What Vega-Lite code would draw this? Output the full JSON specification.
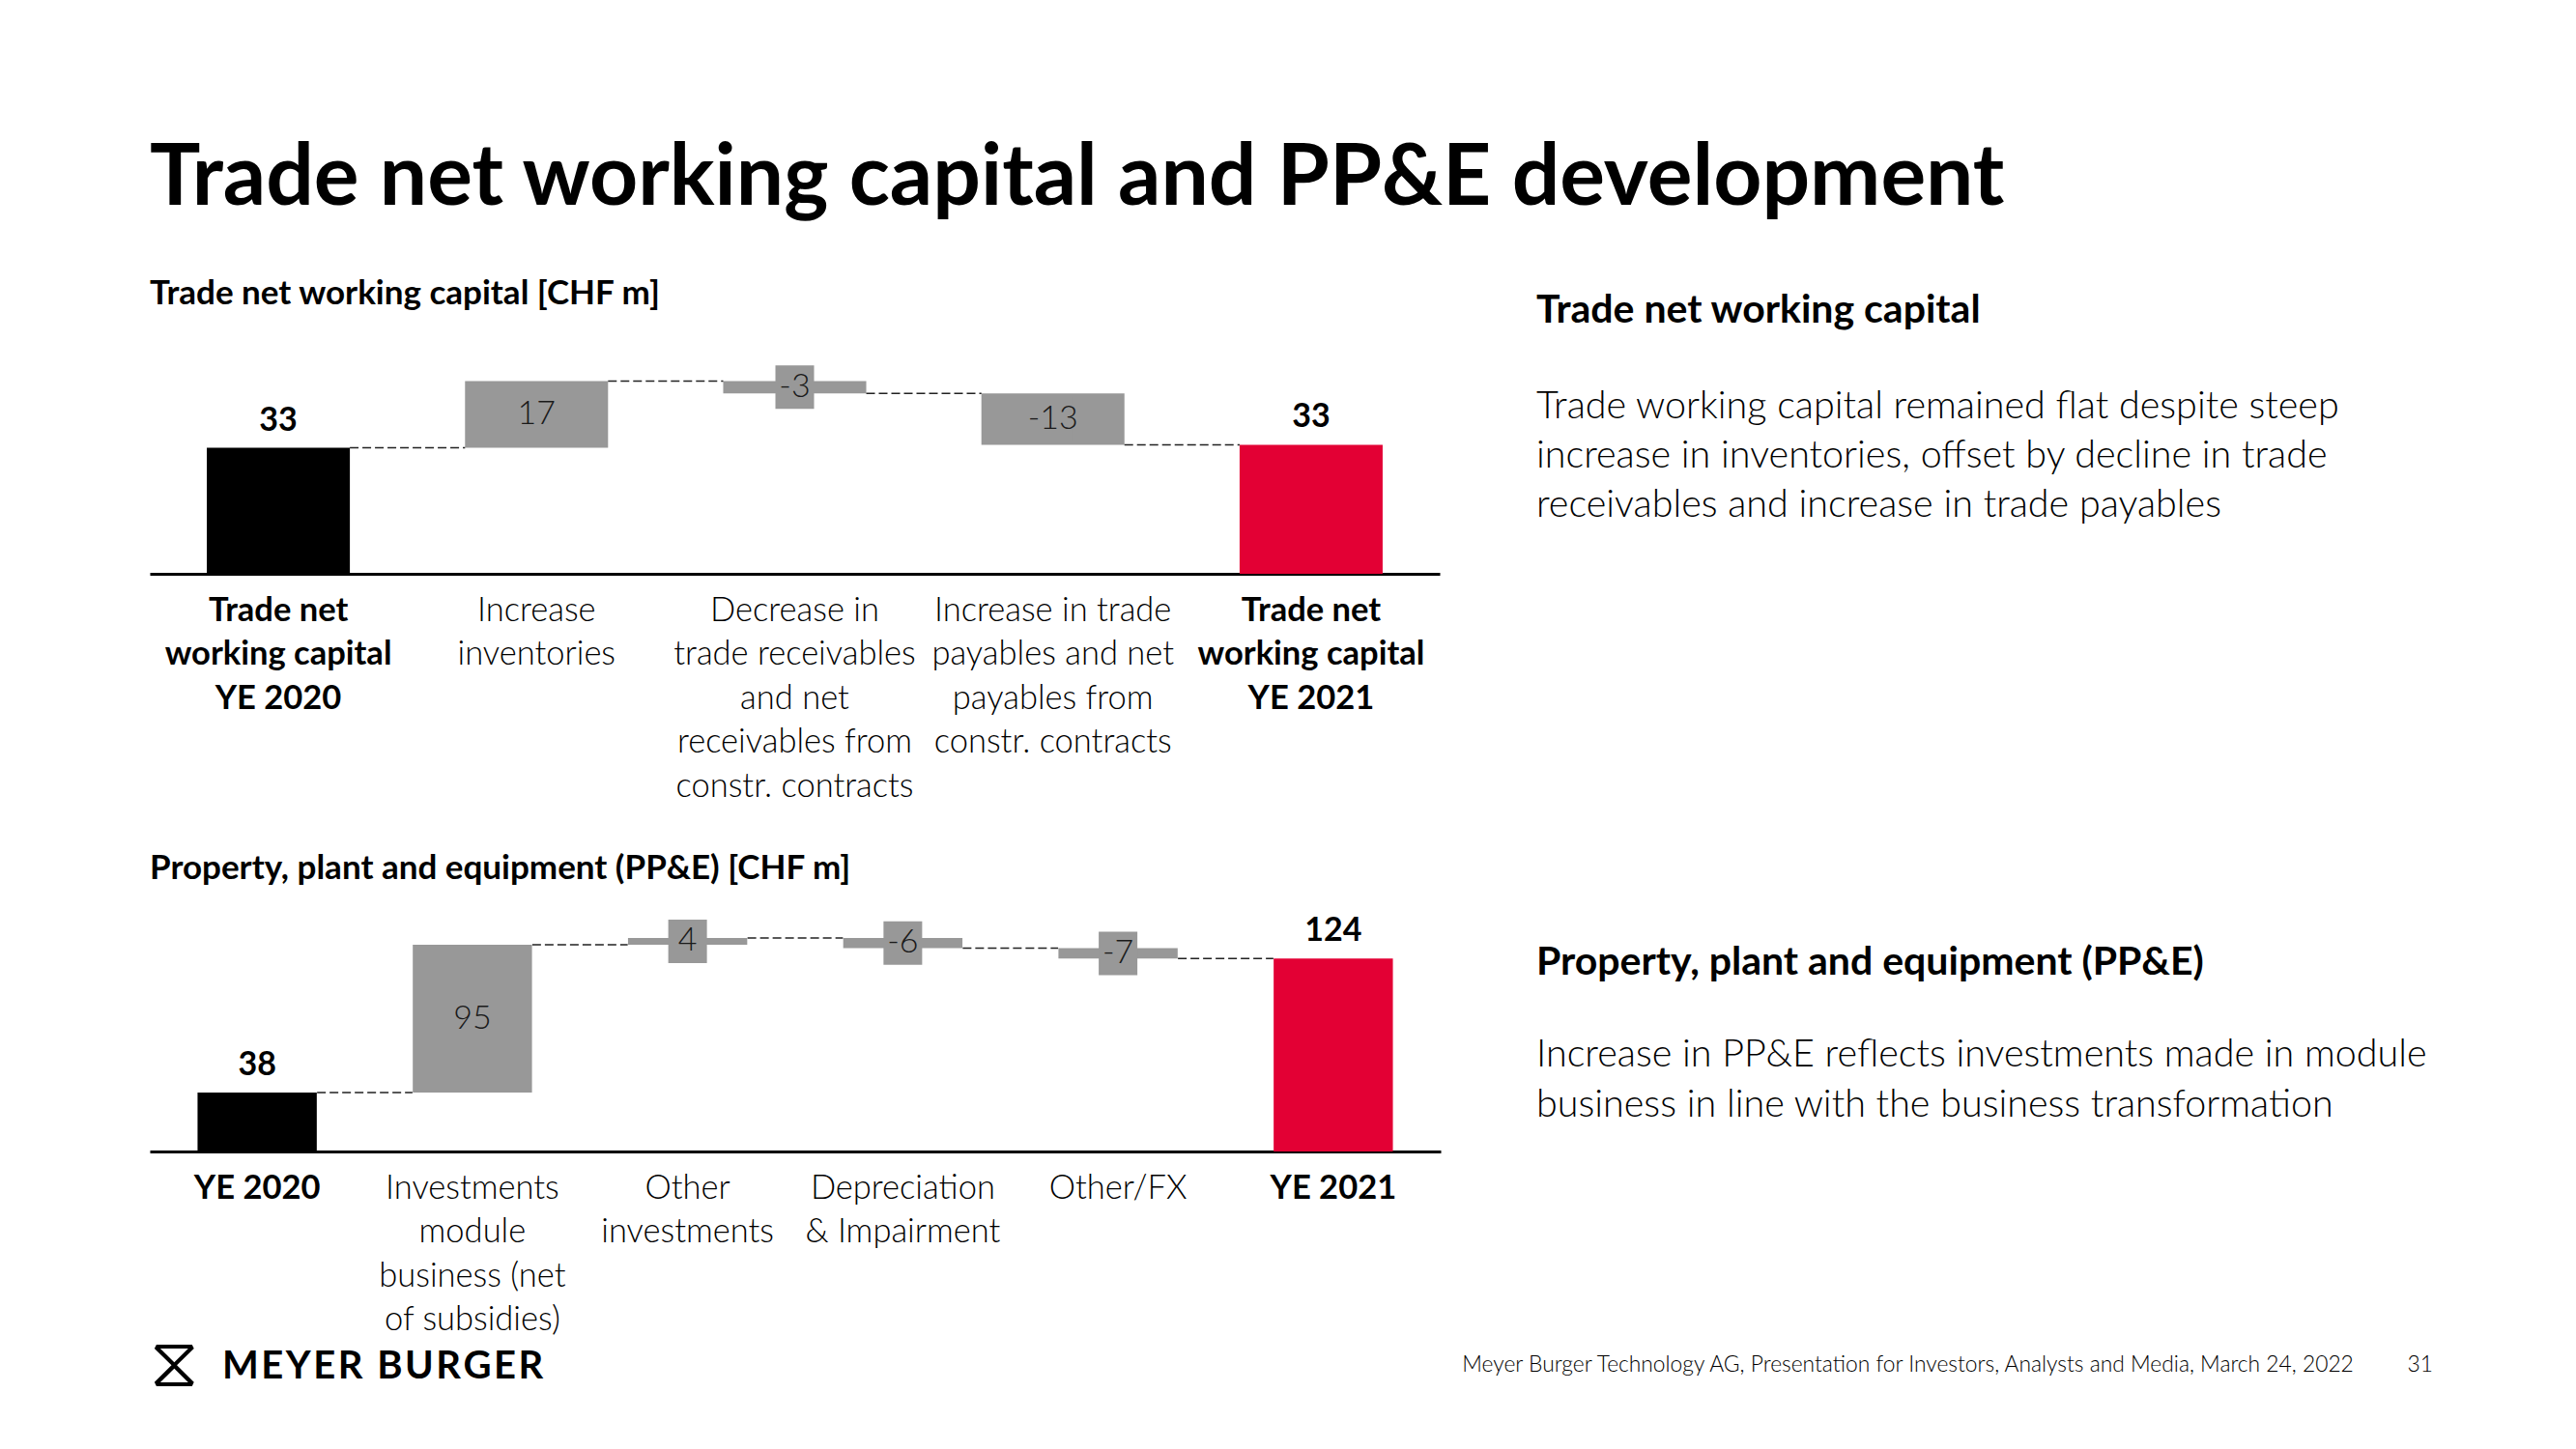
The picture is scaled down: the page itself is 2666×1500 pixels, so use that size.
{
  "$schema": "https://vega.github.io/schema/vega-lite/v6.json",
  "background": "white",
  "padding": {"left": 155, "top": 142, "right": 10, "bottom": 10},
  "config": {
    "font": "Lato",
    "view": {"stroke": null},
    "title": {"color": "#000000"}
  },
  "title": {
    "text": "Trade net working capital and PP&E development",
    "anchor": "start",
    "font": "Lato",
    "fontSize": 87.5,
    "fontWeight": "bold",
    "color": "#000000",
    "offset": 56.5
  },
  "datasets": {
    "nwc": [
      {"step": "Trade net|working capital|YE 2020", "start": 0, "end": 32.6, "label": "33", "kind": "total2020", "next": "Increase|inventories"},
      {"step": "Increase|inventories", "start": 32.6, "end": 49.9, "label": "17", "kind": "change", "next": "Decrease in|trade receivables|and net|receivables from|constr. contracts"},
      {"step": "Decrease in|trade receivables|and net|receivables from|constr. contracts", "start": 49.9, "end": 46.7, "label": "-3", "kind": "change", "next": "Increase in trade|payables and net|payables from|constr. contracts"},
      {"step": "Increase in trade|payables and net|payables from|constr. contracts", "start": 46.7, "end": 33.4, "label": "-13", "kind": "change", "next": "Trade net|working capital|YE 2021"},
      {"step": "Trade net|working capital|YE 2021", "start": 0, "end": 33.4, "label": "33", "kind": "total2021", "next": null}
    ],
    "ppe": [
      {"step": "YE 2020", "start": 0, "end": 37.9, "label": "38", "kind": "total2020", "next": "Investments|module|business (net|of subsidies)"},
      {"step": "Investments|module|business (net|of subsidies)", "start": 37.9, "end": 133.2, "label": "95", "kind": "change", "next": "Other|investments"},
      {"step": "Other|investments", "start": 133.2, "end": 137.6, "label": "4", "kind": "change", "next": "Depreciation|& Impairment"},
      {"step": "Depreciation|& Impairment", "start": 137.6, "end": 131.0, "label": "-6", "kind": "change", "next": "Other/FX"},
      {"step": "Other/FX", "start": 131.0, "end": 124.3, "label": "-7", "kind": "change", "next": "YE 2021"},
      {"step": "YE 2021", "start": 0, "end": 124.3, "label": "124", "kind": "total2021", "next": null}
    ]
  },
  "vconcat": [
    {
      "hconcat": [
        {
          "vconcat": [
            {
              "width": 1335,
              "height": 220,
              "title": {"text": "Trade net working capital [CHF m]", "anchor": "start", "font": "Lato", "fontSize": 35, "fontWeight": "bold", "offset": 52},
              "data": {"name": "nwc"},
              "encoding": {
                "x": {
                  "field": "step", "type": "nominal", "sort": null,
                  "scale": {"paddingInner": 0.446, "paddingOuter": 0.221},
                  "axis": {
                    "title": null, "labelExpr": "split(datum.label, '|')", "labelAngle": 0,
                    "labelFont": "Lato", "labelFontSize": 34.5, "labelLineHeight": 45.5, "labelColor": "#000000",
                    "labelFontWeight": {"condition": {"test": "indexof(datum.value, 'YE 20') >= 0", "value": "bold"}, "value": 300},
                    "labelPadding": 21, "labelLimit": 400, "labelOverlap": false, "labelBaseline": "top",
                    "ticks": false, "domainColor": "#000000", "domainWidth": 3
                  }
                }
              },
              "layer": [
                {
                  "mark": {"type": "bar"},
                  "encoding": {
                    "y": {"field": "start", "type": "quantitative", "scale": {"domain": [0, 55], "nice": false, "zero": true}, "axis": null},
                    "y2": {"field": "end"},
                    "color": {"field": "kind", "type": "nominal", "scale": {"domain": ["total2020", "change", "total2021"], "range": ["#000000", "#989898", "#E30034"]}, "legend": null}
                  }
                },
                {
                  "transform": [{"filter": "datum.next != null"}],
                  "mark": {"type": "rule", "color": "#222222", "strokeWidth": 1.5, "strokeDash": [9, 4], "xOffset": 74, "x2Offset": -74},
                  "encoding": {
                    "x2": {"field": "next"},
                    "y": {"field": "end", "type": "quantitative"}
                  }
                },
                {
                  "transform": [{"filter": "datum.kind != 'change'"}],
                  "mark": {"type": "text", "font": "Lato", "fontSize": 34, "fontWeight": "bold", "color": "#000000", "baseline": "alphabetic", "dy": -18},
                  "encoding": {
                    "y": {"field": "end", "type": "quantitative"},
                    "text": {"field": "label"}
                  }
                },
                {
                  "transform": [
                    {"filter": "datum.kind == 'change'"},
                    {"fold": ["start", "end"], "as": ["which", "v"]},
                    {"aggregate": [{"op": "mean", "field": "v", "as": "mid"}], "groupby": ["step", "label"]}
                  ],
                  "layer": [
                    {
                      "mark": {"type": "point", "shape": "M-0.889,-1H0.889V1H-0.889Z", "filled": true, "size": 2025, "color": "#989898", "opacity": 1, "strokeWidth": 0},
                      "encoding": {"y": {"field": "mid", "type": "quantitative"}}
                    },
                    {
                      "mark": {"type": "text", "font": "Lato", "fontSize": 34, "fontWeight": 300, "color": "#1a1a1a", "baseline": "middle"},
                      "encoding": {
                        "y": {"field": "mid", "type": "quantitative"},
                        "text": {"field": "label"}
                      }
                    }
                  ]
                }
              ]
            },
            {
              "width": 1336,
              "height": 241,
              "title": {"text": "Property, plant and equipment (PP&E) [CHF m]", "anchor": "start", "font": "Lato", "fontSize": 35, "fontWeight": "bold", "offset": 30},
              "data": {"name": "ppe"},
              "encoding": {
                "x": {
                  "field": "step", "type": "nominal", "sort": null,
                  "scale": {"paddingInner": 0.446, "paddingOuter": 0.222},
                  "axis": {
                    "title": null, "labelExpr": "split(datum.label, '|')", "labelAngle": 0,
                    "labelFont": "Lato", "labelFontSize": 34.5, "labelLineHeight": 45.5, "labelColor": "#000000",
                    "labelFontWeight": {"condition": {"test": "indexof(datum.value, 'YE 20') >= 0", "value": "bold"}, "value": 300},
                    "labelPadding": 21, "labelLimit": 400, "labelOverlap": false, "labelBaseline": "top",
                    "ticks": false, "domainColor": "#000000", "domainWidth": 3
                  }
                }
              },
              "layer": [
                {
                  "mark": {"type": "bar"},
                  "encoding": {
                    "y": {"field": "start", "type": "quantitative", "scale": {"domain": [0, 150], "nice": false, "zero": true}, "axis": null},
                    "y2": {"field": "end"},
                    "color": {"field": "kind", "type": "nominal", "scale": {"domain": ["total2020", "change", "total2021"], "range": ["#000000", "#989898", "#E30034"]}, "legend": null}
                  }
                },
                {
                  "transform": [{"filter": "datum.next != null"}],
                  "mark": {"type": "rule", "color": "#222222", "strokeWidth": 1.5, "strokeDash": [9, 4], "xOffset": 62, "x2Offset": -62},
                  "encoding": {
                    "x2": {"field": "next"},
                    "y": {"field": "end", "type": "quantitative"}
                  }
                },
                {
                  "transform": [{"filter": "datum.kind != 'change'"}],
                  "mark": {"type": "text", "font": "Lato", "fontSize": 34, "fontWeight": "bold", "color": "#000000", "baseline": "alphabetic", "dy": -18},
                  "encoding": {
                    "y": {"field": "end", "type": "quantitative"},
                    "text": {"field": "label"}
                  }
                },
                {
                  "transform": [
                    {"filter": "datum.kind == 'change'"},
                    {"fold": ["start", "end"], "as": ["which", "v"]},
                    {"aggregate": [{"op": "mean", "field": "v", "as": "mid"}], "groupby": ["step", "label"]}
                  ],
                  "layer": [
                    {
                      "mark": {"type": "point", "shape": "M-0.889,-1H0.889V1H-0.889Z", "filled": true, "size": 2025, "color": "#989898", "opacity": 1, "strokeWidth": 0},
                      "encoding": {"y": {"field": "mid", "type": "quantitative"}}
                    },
                    {
                      "mark": {"type": "text", "font": "Lato", "fontSize": 34, "fontWeight": 300, "color": "#1a1a1a", "baseline": "middle"},
                      "encoding": {
                        "y": {"field": "mid", "type": "quantitative"},
                        "text": {"field": "label"}
                      }
                    }
                  ]
                }
              ]
            }
          ],
          "spacing": 51
        },
        {
          "vconcat": [
            {
              "width": 925,
              "height": 581,
              "title": {
                "text": "Trade net working capital",
                "subtitle": ["Trade working capital remained flat despite steep", "increase in inventories, offset by decline in trade", "receivables and increase in trade payables"],
                "anchor": "start", "font": "Lato", "fontSize": 41, "fontWeight": "bold", "color": "#000000",
                "subtitleFont": "Lato", "subtitleFontSize": 39.5, "subtitleFontWeight": 300, "subtitleColor": "#000000",
                "subtitleLineHeight": 51, "subtitlePadding": 59, "offset": -169
              },
              "data": {"values": [{}]},
              "mark": {"type": "text", "text": ""},
              "encoding": {}
            },
            {
              "width": 925,
              "height": 100,
              "title": {
                "text": "Property, plant and equipment (PP&E)",
                "subtitle": ["Increase in PP&E reflects investments made in module", "business in line with the business transformation"],
                "anchor": "start", "font": "Lato", "fontSize": 41, "fontWeight": "bold", "color": "#000000",
                "subtitleFont": "Lato", "subtitleFontSize": 39.5, "subtitleFontWeight": 300, "subtitleColor": "#000000",
                "subtitleLineHeight": 52, "subtitlePadding": 55, "offset": 0
              },
              "data": {"values": [{}]},
              "mark": {"type": "text", "text": ""},
              "encoding": {}
            }
          ],
          "spacing": 20
        }
      ],
      "spacing": 99
    },
    {
      "hconcat": [
        {
          "width": 65,
          "height": 1,
          "title": {"text": "⧖", "anchor": "start", "font": "DejaVu Sans", "fontSize": 72, "fontWeight": "normal", "color": "#000000", "offset": -15},
          "data": {"values": [{}]},
          "mark": {"type": "text", "text": ""},
          "encoding": {}
        },
        {
          "width": 330,
          "height": 1,
          "title": {"text": "M\u200aE\u200aY\u200aE\u200aR\u2009 B\u200aU\u200aR\u200aG\u200aE\u200aR", "anchor": "start", "font": "Lato", "fontSize": 40, "fontWeight": "bold", "color": "#000000", "offset": 0},
          "data": {"values": [{}]},
          "mark": {"type": "text", "text": ""},
          "encoding": {}
        },
        {
          "width": 1945,
          "height": 1,
          "title": {"text": "Meyer Burger Technology AG, Presentation for Investors, Analysts and Media, March 24, 2022\u00a0\u00a0\u00a0\u00a0\u00a0\u00a0\u00a0\u00a0\u00a031", "anchor": "end", "font": "Lato", "fontSize": 22.8, "fontWeight": 300, "color": "#000000", "offset": 10},
          "data": {"values": [{}]},
          "mark": {"type": "text", "text": ""},
          "encoding": {}
        }
      ],
      "spacing": 10
    }
  ],
  "spacing": -7
}
